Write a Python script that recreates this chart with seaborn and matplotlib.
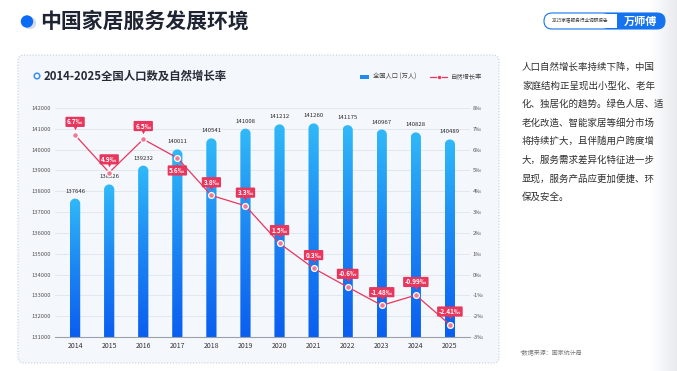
import numpy as np
import pandas as pd
import matplotlib
matplotlib.use("Agg")
import matplotlib.pyplot as plt
import seaborn as sns
from matplotlib.path import Path
from matplotlib.patches import PathPatch, FancyBboxPatch, Circle, Rectangle
from matplotlib.colors import LinearSegmentedColormap
from matplotlib.transforms import offset_copy

# ---------------- data ----------------
years = ["2014", "2015", "2016", "2017", "2018", "2019",
         "2020", "2021", "2022", "2023", "2024", "2025"]
population = [137646, 138326, 139232, 140011, 140541, 141008,
              141212, 141260, 141175, 140967, 140828, 140489]
growth_rate = [6.7, 4.9, 6.5, 5.6, 3.8, 3.3, 1.5, 0.3, -0.6, -1.48, -0.99, -2.41]
rate_labels = ["6.7‰", "4.9‰", "6.5‰", "5.6‰", "3.8‰", "3.3‰",
               "1.5‰", "0.3‰", "-0.6‰", "-1.48‰", "-0.99‰", "-2.41‰"]
left_ticks = list(range(131000, 142001, 1000))
right_ticks = list(range(-3, 9))

paragraph = ["人口自然增长率持续下降，中国",
             "家庭结构正呈现出小型化、老年",
             "化、独居化的趋势。绿色人居、适",
             "老化改造、智能家居等细分市场",
             "将持续扩大，且伴随用户跨度增",
             "大，服务需求差异化特征进一步",
             "显现，服务产品应更加便捷、环",
             "保及安全。"]

df = pd.DataFrame({"year": years, "population": population, "rate": growth_rate})
df["pos"] = np.arange(len(df))

# ---------------- style ----------------
sns.set_theme(style="white")
plt.rcParams["font.family"] = ["Noto Sans CJK SC", "DejaVu Sans"]

W, H = 677, 371
fig = plt.figure(figsize=(W / 100, H / 100), dpi=100)
fig.patch.set_facecolor("white")

bg = fig.add_axes([0, 0, 1, 1])
bg.set_xlim(0, W)
bg.set_ylim(H, 0)
bg.axis("off")
bg.set_zorder(0)

RED = "#E8365D"
BLUE = "#1673F0"

shade = np.linspace(0, 1, 64).reshape(1, -1)
bg.imshow(shade, extent=[650, 677, 371, 0], cmap=LinearSegmentedColormap.from_list(
    "sh", ["#FFFFFF", "#E9EAEE"]), aspect="auto", zorder=0)

bg.add_patch(FancyBboxPatch((18, 55), 481, 308,
                            boxstyle="round,pad=0,rounding_size=6",
                            fc="#F4F7FC", ec="#C5CCD8", lw=0.8,
                            ls=(0, (1, 1.6)), zorder=1))

bg.add_patch(Circle((30, 23), 6.2, fc="#D8DBE2", ec="none", zorder=2))
bg.add_patch(Circle((27, 21.5), 6.2, fc="#0A6CF5", ec="none", zorder=3))
bg.text(40, 21, "中国家居服务发展环境", fontsize=15, fontweight="bold",
        color="#1F2433", va="center", ha="left", zorder=3)

bg.add_patch(FancyBboxPatch((544, 13), 121, 16, boxstyle="round,pad=0,rounding_size=8",
                            fc="white", ec="none", zorder=2))
bg.add_patch(FancyBboxPatch((600, 13), 65, 16, boxstyle="round,pad=0,rounding_size=8",
                            fc=BLUE, ec="none", zorder=3))
bg.add_patch(Rectangle((598, 13.6), 19, 14.8, fc="white", ec="none", zorder=4))
bg.add_patch(FancyBboxPatch((544, 13), 121, 16, boxstyle="round,pad=0,rounding_size=8",
                            fc="none", ec=BLUE, lw=0.8, zorder=5))
bg.text(580.5, 21, "2025家居服务行业调研报告", fontsize=3.3, color="#333333",
        ha="center", va="center", zorder=6)
bg.text(640, 21, "万师傅", fontsize=8, fontweight="bold", color="white",
        ha="center", va="center", zorder=6)

bg.add_patch(Circle((37, 76), 2.8, fc="none", ec="#3B8CF5", lw=1.1, zorder=3))
bg.text(44, 76, "2014-2025全国人口数及自然增长率", fontsize=8.2, fontweight="bold",
        color="#262A36", ha="left", va="center", zorder=3)

bg.add_patch(Rectangle((360, 75), 8.5, 4, fc="#1E8AF2", ec="none", zorder=3))
bg.text(373, 77, "全国人口 (万人)", fontsize=4.5, color="#444444", va="center", zorder=3)
bg.plot([430, 447], [77, 77], color=RED, lw=0.9, zorder=3)
bg.plot([438.5], [77], marker="o", ms=3, mfc=RED, mec="white", mew=0.5, zorder=4)
bg.text(451, 77, "自然增长率", fontsize=4.5, color="#444444", va="center", zorder=3)

for i, line in enumerate(paragraph):
    bg.text(522, 67 + i * 18.6, line, fontsize=6.8, color="#2E2E2E",
            ha="left", va="center", zorder=3)
bg.text(520, 353, "*数据来源：国家统计局", fontsize=4.3, color="#777777",
        ha="left", va="center", zorder=3)

# ---------------- chart ----------------
ax_l, ax_b, ax_w, ax_h = 55, 34, 415, 229
ax = fig.add_axes([ax_l / W, ax_b / H, ax_w / W, ax_h / H])
ax.set_zorder(2)
ax.patch.set_alpha(0)

bar_w = 0.3
sns.barplot(data=df, x="year", y="population", ax=ax, width=bar_w,
            color="#1E8AF2", saturation=1)
ax.set_xlim(-0.59, len(years) - 1 + 0.59)
ax.set_ylim(left_ticks[0], left_ticks[-1])
ax.set_autoscale_on(False)

xr = ax.get_xlim()[1] - ax.get_xlim()[0]
yr = ax.get_ylim()[1] - ax.get_ylim()[0]
aspect = (yr / ax_h) / (xr / ax_w)

cmap = LinearSegmentedColormap.from_list("bar", ["#0A5EF0", "#1C86F3", "#30B9F8"])
grad = np.linspace(0, 1, 256).reshape(-1, 1)
for p in list(ax.patches):
    x0 = p.get_x()
    w = p.get_width()
    top = p.get_height()
    p.set_visible(False)
    rx = w / 2
    ry = rx * aspect
    xc = x0 + rx
    base = left_ticks[0] - 2000
    t = np.linspace(np.pi, 0, 30)
    verts = [(x0, base), (x0, top - ry)]
    verts += list(zip(xc + rx * np.cos(t), top - ry + ry * np.sin(t)))
    verts += [(x0 + w, base), (x0, base)]
    codes = [Path.MOVETO] + [Path.LINETO] * (len(verts) - 2) + [Path.CLOSEPOLY]
    clip = PathPatch(Path(verts, codes), transform=ax.transData, fc="none", ec="none")
    ax.add_patch(clip)
    im = ax.imshow(grad, extent=[x0, x0 + w, left_ticks[0], top], origin="lower",
                   cmap=cmap, aspect="auto", zorder=2, interpolation="bilinear")
    im.set_clip_path(clip)

for i, v in enumerate(df["population"]):
    ax.text(i, v + 240, f"{v}", ha="center", va="bottom", fontsize=4.3,
            color="#2A2A2A", zorder=3)

ax.set_yticks(left_ticks)
ax.set_yticklabels([str(v) for v in left_ticks])
ax.tick_params(axis="y", length=0, labelsize=4.2, labelcolor="#555555", pad=3)
ax.tick_params(axis="x", length=0, labelsize=5, labelcolor="#333333", pad=3.5)
ax.set_xlabel("")
ax.set_ylabel("")
ax.yaxis.grid(True, color="#E2E6EE", lw=0.7)
ax.set_axisbelow(True)
for s in ["top", "left", "right"]:
    ax.spines[s].set_visible(False)
ax.spines["bottom"].set_color("#9BA1AA")
ax.spines["bottom"].set_linewidth(0.8)

ax2 = ax.twinx()
ax2.set_zorder(3)
sns.lineplot(data=df, x="pos", y="rate", ax=ax2, color=RED, lw=0.9,
             marker="o", markersize=4.2, markerfacecolor="#F07A96",
             markeredgecolor="white", markeredgewidth=0.9)
ax2.set_ylim(right_ticks[0], right_ticks[-1])
ax2.set_xlim(ax.get_xlim())
ax2.set_yticks(right_ticks)
ax2.set_yticklabels([f"{v}‰" for v in right_ticks])
ax2.tick_params(axis="y", length=0, labelsize=4.2, labelcolor="#555555", pad=2)
ax2.set_xlabel("")
ax2.set_ylabel("")
for s in ax2.spines.values():
    s.set_visible(False)

for i, (r, lab) in enumerate(zip(df["rate"], rate_labels)):
    below = (i == 3)
    dy = -9 if below else 9.5
    ax2.annotate(lab, xy=(i, r), xytext=(0, dy), textcoords="offset points",
                 ha="center", va="center", fontsize=4.6, fontweight="bold",
                 color="white", zorder=6,
                 bbox=dict(boxstyle="round,pad=0.25,rounding_size=0.15",
                           fc=RED, ec="none"))
    tr = offset_copy(ax2.transData, fig=fig, x=0, y=(-5.2 if below else 5.2),
                     units="points")
    ax2.plot([i], [r], marker=("^" if below else "v"), ms=2.6, color=RED,
             mec="none", transform=tr, zorder=5)

fig.savefig("out.png", dpi=100)
